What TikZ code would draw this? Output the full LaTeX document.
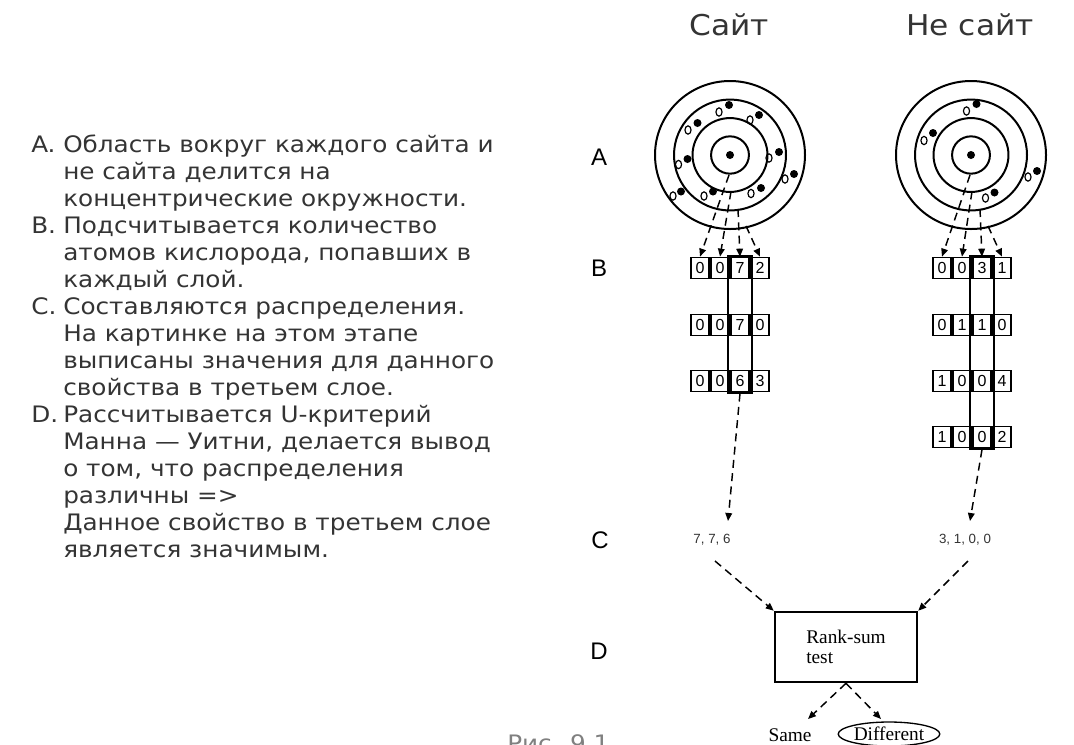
\documentclass[tikz,border=0pt]{standalone}
\usepackage{fontspec}
\setmainfont{DejaVu Sans}
\newfontfamily\gothic[FakeStretch=1.09]{DejaVu Sans}
\newfontfamily\lsans{Liberation Sans}
\newfontfamily\lserif{Liberation Serif}
\usetikzlibrary{arrows.meta,shapes.geometric}
\definecolor{txt}{HTML}{343434}
\begin{document}
\begin{tikzpicture}[x=0.75pt,y=-0.75pt,
  lt/.style={anchor=base west,inner sep=0pt,text=txt,font=\gothic\fontsize{17}{20}\selectfont},
  ttl/.style={inner sep=0pt,text=txt,font=\gothic\fontsize{21.5}{25}\selectfont},
  lab/.style={inner sep=0pt,font=\lsans\fontsize{18}{20}\selectfont},
  ring/.style={line width=1.5pt},
  full/.style={fill=black,circle,inner sep=0pt,minimum size=6pt},
  hollow/.style={draw=black,ellipse,line width=0.9pt,inner sep=0pt,minimum width=4.6pt,minimum height=6.2pt},
  cell/.style={draw,line width=1.3pt,minimum width=13pt,minimum height=15.75pt,inner sep=0pt,font=\lsans\fontsize{12}{12}\selectfont},
  hl/.style={draw,line width=0.8pt,inner sep=0pt,minimum width=18pt},
  conn/.style={line width=1.1pt,dash pattern=on 6pt off 4pt,-{Triangle[length=6pt,width=5pt]}},
  vals/.style={inner sep=0pt,text=txt,font=\lsans\fontsize{10}{10}\selectfont},
  rm/.style={font=\lserif\fontsize{14.5}{15}\selectfont}]
\useasboundingbox (0,0) rectangle (1074,744);
\clip (0,0) rectangle (1074,744);
\fill[white] (0,0) rectangle (1074,744);

% ---- left text ----
\node[lt] (la) at (31,152) {A.};
\node[lt] (lb) at (31,233) {B.};
\node[lt] (lc) at (31,314) {C.};
\node[lt] (ld) at (31,422) {D.};
\node[lt] (t1) at (63,152) {Область вокруг каждого сайта и};
\node[lt] (t2) at (63,179) {не сайта делится на};
\node[lt] (t3) at (63,206) {концентрические окружности.};
\node[lt] (t4) at (63,233) {Подсчитывается количество};
\node[lt] (t5) at (63,260) {атомов кислорода, попавших в};
\node[lt] (t6) at (63,287) {каждый слой.};
\node[lt] (t7) at (63,314) {Составляются распределения.};
\node[lt] (t8) at (63,341) {На картинке на этом этапе};
\node[lt] (t9) at (63,368) {выписаны значения для данного};
\node[lt] (t10) at (63,395) {свойства в третьем слое.};
\node[lt] (t11) at (63,422) {Рассчитывается U-критерий};
\node[lt] (t12) at (63,449) {Манна — Уитни, делается вывод};
\node[lt] (t13) at (63,476) {о том, что распределения};
\node[lt] (t14) at (63,503) {различны =>};
\node[lt] (t15) at (63,530) {Данное свойство в третьем слое};
\node[lt] (t16) at (63,557) {является значимым.};
\node[lt,anchor=north west,text=gray] (fig) at (507,734) {Рис. 9.1};

% ---- titles and stage letters ----
\node[ttl] (s1) at (729,25) {Сайт};
\node[ttl] (s2) at (970,25) {Не сайт};
\node[lab] (A) at (599,157) {A};
\node[lab] (B) at (599,268) {B};
\node[lab] (C) at (600,540) {C};
\node[lab] (D) at (599,651) {D};

% ---- targets ----
\foreach \cx in {730,971}{
  \draw[ring] (\cx,155) ellipse [x radius=56.25pt, y radius=55.5pt];
  \draw[ring] (\cx,155) ellipse [x radius=42pt, y radius=41.6pt];
  \draw[ring] (\cx,155) ellipse [x radius=28.1pt, y radius=27.7pt];
  \draw[ring] (\cx,155) ellipse [x radius=14.2pt, y radius=14pt];
}
\node[full] (lc0) at (730,155) {};
\node[full] (rc0) at (971,155) {};
\foreach \p [count=\i] in {(729,105),(759,115),(697.5,123),(779,152),(687.5,159),(794,174),(681,191.5),(713,191.5),(761,188)}
  \node[full] (lf\i) at \p {};
\foreach \p [count=\i] in {(719,112),(750,120),(688,130),(769,158),(678.5,164.5),(785,179),(673,196),(704,196),(751,193.5)}
  \node[hollow] (lo\i) at \p {};
\foreach \p [count=\i] in {(976.5,104),(933,133),(1037,171),(994.5,192.5)}
  \node[full] (rf\i) at \p {};
\foreach \p [count=\i] in {(966.5,111),(924,140.5),(1028,177),(985.5,198)}
  \node[hollow] (ro\i) at \p {};

% ---- count boxes ----
\foreach \r/\y/\vals in {1/268/{0,0,7,2},2/325/{0,0,7,0},3/381/{0,0,6,3}}{
  \foreach \v [count=\c] in \vals
    \node[cell] (L\r\c) at ({680+20*\c},\y) {\v};
}
\foreach \r/\y/\vals in {1/268/{0,0,3,1},2/325/{0,1,1,0},3/381/{1,0,0,4},4/437/{1,0,0,2}}{
  \foreach \v [count=\c] in \vals
    \node[cell] (R\r\c) at ({922+20*\c},\y) {\v};
}
\node[hl,minimum height=102.75pt] (hL) at (740,324.5) {};
\node[hl,minimum height=144.75pt] (hR) at (982,352.5) {};

% ---- arrows from rings to boxes ----
\coordinate (ls1) at (729,175);
\coordinate (ls2) at (731,191.5);
\coordinate (ls3) at (738,209);
\coordinate (ls4) at (746,226);
\coordinate (rs1) at (970,175);
\coordinate (rs2) at (972,191.5);
\coordinate (rs3) at (980,209);
\coordinate (rs4) at (988,226);
\foreach \i in {1,2,3,4}{
  \draw[conn] (ls\i) -- (L1\i.north);
  \draw[conn] (rs\i) -- (R1\i.north);
}

% ---- values ----
\node[vals] (v1) at (712,540) {7, 7, 6};
\node[vals] (v2) at (965,540) {3, 1, 0, 0};
\coordinate (vt1) at (728,521);
\coordinate (vt2) at (970,521);
\draw[conn] (hL.south) -- (vt1);
\draw[conn] (hR.south) -- (vt2);

% ---- rank-sum test ----
\node[draw,line width=1.4pt,minimum width=107pt,minimum height=53pt,align=left,rm] (rs) at (846,647) {Rank-sum\\test};
\coordinate (a1) at (715,561);
\coordinate (a2) at (968,561);
\draw[conn] (a1) -- (rs.north west);
\draw[conn] (a2) -- (rs.north east);

\node[rm,inner sep=0pt] (same) at (790,735) {Same};
\node[rm,draw,ellipse,line width=1pt,inner sep=0.5pt,minimum height=18pt] (diff) at (889,734) {Different};
\coordinate (d1) at (808,719);
\coordinate (d2) at (881,719);
\draw[conn] (rs.south) -- (d1);
\draw[conn] (rs.south) -- (d2);
\end{tikzpicture}
\end{document}
